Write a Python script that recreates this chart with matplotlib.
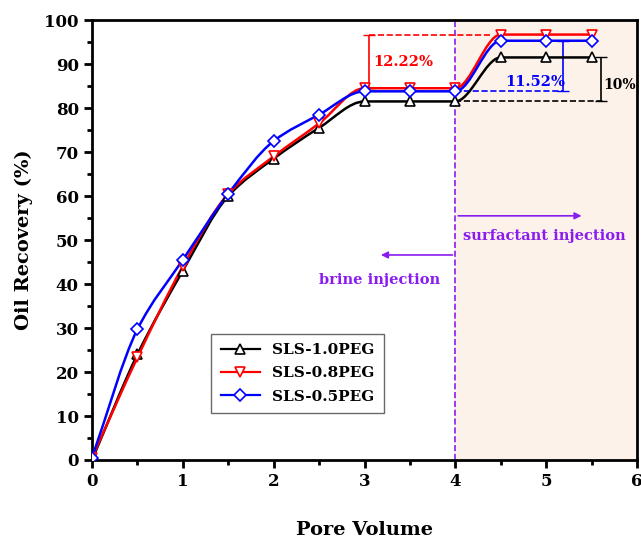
import numpy as np
import matplotlib.pyplot as plt
from matplotlib.path import Path
from matplotlib.patches import PathPatch

plt.rcParams['font.family'] = ['DejaVu Serif']
plt.rcParams['font.weight'] = 'bold'

pv = [0, 0.5, 1, 1.5, 2, 2.5, 3, 3.5, 4, 4.5, 5, 5.5]
rec_10 = [0, 24, 43, 60, 68.5, 75.5, 81.5, 81.5, 81.5, 91.5, 91.5, 91.5]
rec_08 = [0.5, 23.3, 44, 60.5, 69, 76.5, 84.5, 84.5, 84.5, 96.7, 96.7, 96.7]
rec_05 = [0.5, 29.7, 45.5, 60.5, 72.5, 78.5, 83.8, 83.8, 83.8, 95.3, 95.3, 95.3]
labels = ['SLS-1.0PEG', 'SLS-0.8PEG', 'SLS-0.5PEG']
colors = ['black', 'red', 'blue']
markers = ['^', 'v', 'D']
purple = '#8a1cf0'


def smooth_path(x, y):
    # monotone hermite tangents turned into bezier segments
    x = np.asarray(x, float)
    y = np.asarray(y, float)
    h = np.diff(x)
    d = np.diff(y) / h
    m = np.zeros_like(y)
    m[0], m[-1] = d[0], d[-1]
    for i in range(1, len(y) - 1):
        if d[i - 1] * d[i] <= 0:
            m[i] = 0
        else:
            m[i] = 2 / (1 / d[i - 1] + 1 / d[i])
    verts = [(x[0], y[0])]
    codes = [Path.MOVETO]
    for i in range(len(h)):
        verts += [(x[i] + h[i] / 3, y[i] + m[i] * h[i] / 3),
                  (x[i + 1] - h[i] / 3, y[i + 1] - m[i + 1] * h[i] / 3),
                  (x[i + 1], y[i + 1])]
        codes += [Path.CURVE4] * 3
    return Path(verts, codes)


fig = plt.figure(figsize=(6.41, 5.42), dpi=100)
ax = fig.add_axes([0.1435, 0.1513, 0.8503, 0.8117])

ax.axvspan(4, 6, color='#fdf2e9', zorder=0)
ax.axvline(4, color=purple, ls='--', lw=1.2, zorder=1)

for y, lab, c, mk in zip([rec_10, rec_08, rec_05], labels, colors, markers):
    ms = 7 if mk != 'D' else 6
    ax.add_patch(PathPatch(smooth_path(pv, y), fill=False, edgecolor=c, lw=1.8, zorder=3))
    ax.plot(pv, y, ls='none', marker=mk, ms=ms, mfc='white', mec=c, mew=1.2, zorder=4)
    ax.plot([], [], color=c, lw=1.6, marker=mk, ms=ms, mfc='white', mec=c, mew=1.2,
            label=lab)

# difference markers
ax.plot([3.05, 4.4], [rec_08[-1], rec_08[-1]], color='red', ls='--', lw=1.2, zorder=2)
ax.errorbar([3.05], [(rec_08[-1] + rec_08[6]) / 2], yerr=[(rec_08[-1] - rec_08[6]) / 2],
            color='red', lw=1.2, capsize=4, zorder=2)
ax.text(3.1, 89.5, '12.22%', color='red', fontsize=10.5, fontweight='bold')

ax.plot([4, 5.18], [rec_05[8], rec_05[8]], color='blue', ls='--', lw=1.2, zorder=2)
ax.errorbar([5.18], [(rec_05[-1] + rec_05[8]) / 2], yerr=[(rec_05[-1] - rec_05[8]) / 2],
            color='blue', lw=1.2, capsize=4, zorder=2)
ax.text(4.55, 85.0, '11.52%', color='blue', fontsize=10.5, fontweight='bold')

ax.plot([4, 5.65], [rec_10[8], rec_10[8]], color='black', ls='--', lw=1.2, zorder=2)
ax.errorbar([5.6], [(rec_10[-1] + rec_10[8]) / 2], yerr=[(rec_10[-1] - rec_10[8]) / 2],
            color='black', lw=1.2, capsize=4, zorder=2)
ax.text(5.63, 84.3, '10%', color='black', fontsize=10, fontweight='bold')

# injection arrows
ax.annotate('', xy=(5.42, 55.5), xytext=(4.0, 55.5),
            arrowprops=dict(arrowstyle='-|>', color=purple, lw=1.2))
ax.text(4.08, 50.0, 'surfactant injection', color=purple, fontsize=10.5, fontweight='bold')
ax.annotate('', xy=(3.15, 46.6), xytext=(4.0, 46.6),
            arrowprops=dict(arrowstyle='-|>', color=purple, lw=1.2))
ax.text(3.17, 40.0, 'brine injection', color=purple, fontsize=10.5, fontweight='bold',
        ha='center')

ax.set_xlim(0, 6)
ax.set_ylim(0, 100)
ax.set_xticks(range(0, 7))
ax.set_xticks(np.arange(0, 6.01, 0.5), minor=True)
ax.set_yticks(range(0, 101, 10))
ax.set_yticks(range(0, 101, 5), minor=True)
ax.tick_params(which='major', direction='out', length=6, width=2, labelsize=12)
ax.tick_params(which='minor', direction='out', length=3.5, width=2)
for s in ax.spines.values():
    s.set_linewidth(2)

ax.set_xlabel('Pore Volume', fontsize=14, fontweight='bold', labelpad=22)
ax.set_ylabel('Oil Recovery (%)', fontsize=14, fontweight='bold', labelpad=8)

leg = ax.legend(loc='lower left', bbox_to_anchor=(0.205, 0.09), fontsize=11,
                fancybox=False, edgecolor='#444444', handlelength=2.6,
                borderpad=0.6, labelspacing=0.6)
leg.get_frame().set_linewidth(1.0)

fig.savefig('out.png', dpi=100)
